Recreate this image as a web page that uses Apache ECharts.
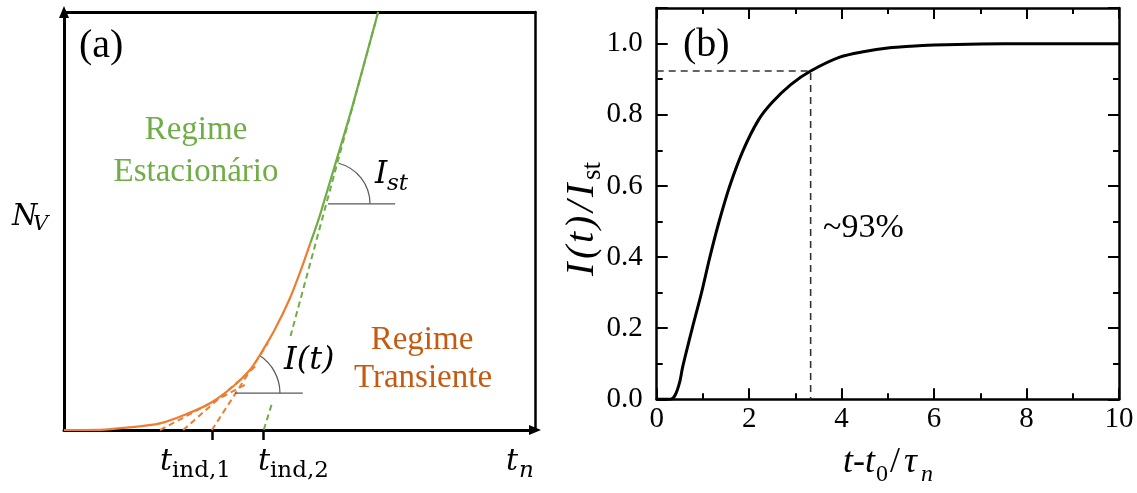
<!DOCTYPE html>
<html><head><meta charset="utf-8">
<script src="https://cdn.jsdelivr.net/npm/echarts@6/dist/echarts.min.js"></script>
<style>html,body{margin:0;padding:0;background:#fff}#c{width:1137px;height:493px}</style>
</head><body><div id="c"></div>
<script>
// ---------- Panel (a): schematic, abstract units (x 0-100, y 0-100) ----------
const transX = [0, 7.6, 13.3, 20.4, 26.0, 31.0, 35.9, 39.5, 42.0, 44.7, 47.8, 50.3, 52.3];
const transY = [0, 0.05, 0.55, 1.6, 3.8, 6.4, 10.4, 14.4, 18.7, 23.9, 31.1, 38.3, 44.7];
const steadyX = [52.3, 54.0, 55.3, 58.5, 61.2, 66.7];
const steadyY = [44.7, 50.2, 55.0, 67.0, 77.3, 100];
const asymUpperX = [66.7, 48.1];
const asymUpperY = [100, 22.5];
const asymLowerX = [44.05, 42.4];
const asymLowerY = [6.0, 0];
const tan1X = [20.4, 38.4], tan1Y = [0, 10.8];
const tan2X = [25.3, 41.2], tan2Y = [0, 15.8];
const tan3X = [31.4, 43.3], tan3Y = [0, 20.8];
const tIndTicks = [31.5, 42.3];
// angle markers: [centerX, centerY, pointOnLineX, pointOnLineY, horizontalEndX]
const angleIt = [36.3, 8.8, 43.3, 20.8, 50.7];
const angleIst = [56.05, 54.1, 66.7, 100, 70.3];

// ---------- Panel (b): I(t)/Ist vs (t-t0)/tau_n ----------
const bT = [0, 0.3, 0.4, 0.5, 0.56, 0.77, 0.97, 1.15, 1.35, 1.58, 1.87, 2.2, 2.5, 2.9, 3.33, 3.96, 4.5, 5, 5.5, 6, 7, 8, 10];
const bV = [0, 0, 0.012, 0.05, 0.09, 0.2, 0.3, 0.4, 0.5, 0.6, 0.7, 0.785, 0.835, 0.885, 0.923, 0.962, 0.978, 0.988, 0.993, 0.996, 0.999, 1, 1];
const mark93T = 3.33, mark93V = 0.923;
const bXTicks = [0, 2, 4, 6, 8, 10];
const bYTicks = [0.0, 0.2, 0.4, 0.6, 0.8, 1.0];

const zip = (a, b) => a.map((v, i) => [v, b[i]]);
const GREEN = '#70AD47', ORANGE = '#ED7D31', ORANGE_TXT = '#C55A11', SERIF = 'Liberation Serif', MATH = 'DejaVu Serif';

const chart = echarts.init(document.getElementById('c'), null, {renderer: 'canvas'});

function angleSeries(a, r) {
  return {
    type: 'custom', xAxisIndex: 0, yAxisIndex: 0, clip: false, z: 3,
    data: [a],
    renderItem: (p, api) => {
      const c = api.coord([api.value(0), api.value(1)]);
      const q = api.coord([api.value(2), api.value(3)]);
      const e = api.coord([api.value(4), api.value(1)]);
      const ang = Math.atan2(q[1] - c[1], q[0] - c[0]);
      return {type: 'group', children: [
        {type: 'line', shape: {x1: c[0], y1: c[1], x2: e[0], y2: e[1]}, style: {stroke: '#595959', lineWidth: 1.2}},
        {type: 'arc', shape: {cx: c[0], cy: c[1], r: r, startAngle: ang, endAngle: 0, clockwise: true}, style: {stroke: '#595959', fill: null, lineWidth: 1.2}}
      ]};
    }
  };
}
const dashLine = (x, y, color) => ({
  type: 'line', xAxisIndex: 0, yAxisIndex: 0, data: zip(x, y), symbol: 'none', clip: false,
  lineStyle: {color: color, width: 2, type: [6, 4]}, z: 2
});

const tx = (text, x, y, size, opts = {}) => ({
  type: 'text', x, y, z: 10,
  style: {text, font: `${opts.style || 'normal'} ${size}px "${opts.family || SERIF}"`, fill: opts.fill || '#000',
    textAlign: opts.align || 'left', textVerticalAlign: 'middle'}
});

const hidden = {axisTick: {show: false}, axisLabel: {show: false}, splitLine: {show: false}};
const option = {
  animation: false,
  backgroundColor: '#fff',
  grid: [
    {left: 64, top: 12, width: 471, height: 418},
    {left: 656.7, top: 8.1, width: 462.3, height: 391.2}
  ],
  xAxis: [
    {gridIndex: 0, type: 'value', min: 0, max: 100, position: 'bottom',
      axisLine: {show: true, onZero: false, symbol: ['none', 'triangle'], symbolSize: [10, 12], lineStyle: {color: '#000', width: 3}},
      axisTick: {show: true, customValues: tIndTicks, inside: false, length: 10, lineStyle: {color: '#000', width: 2.5}},
      axisLabel: {show: false}, splitLine: {show: false}},
    Object.assign({gridIndex: 0, type: 'value', min: 0, max: 100, position: 'top',
      axisLine: {show: true, onZero: false, lineStyle: {color: '#000', width: 3}}}, hidden),
    {gridIndex: 1, type: 'value', min: 0, max: 10, interval: 2, position: 'bottom',
      axisLine: {show: true, onZero: false, lineStyle: {color: '#000', width: 2.5}},
      axisTick: {show: true, inside: true, length: 11, lineStyle: {color: '#000', width: 2}},
      axisLabel: {show: true, margin: 6, color: '#000', fontFamily: SERIF, fontSize: 29,
        customValues: bXTicks, formatter: v => String(v)},
      splitLine: {show: false}},
    {gridIndex: 1, type: 'value', min: 0, max: 10, interval: 1, position: 'bottom',
      axisLine: {show: false, onZero: false}, axisTick: {show: true, inside: true, length: 6, lineStyle: {color: '#000', width: 2}},
      axisLabel: {show: false}, splitLine: {show: false}},
    {gridIndex: 1, type: 'value', min: 0, max: 10, interval: 2, position: 'top',
      axisLine: {show: true, onZero: false, lineStyle: {color: '#000', width: 2.5}},
      axisTick: {show: true, inside: true, length: 11, lineStyle: {color: '#000', width: 2}},
      axisLabel: {show: false}, splitLine: {show: false}},
    {gridIndex: 1, type: 'value', min: 0, max: 10, interval: 1, position: 'top',
      axisLine: {show: false, onZero: false}, axisTick: {show: true, inside: true, length: 6, lineStyle: {color: '#000', width: 2}},
      axisLabel: {show: false}, splitLine: {show: false}}
  ],
  yAxis: [
    Object.assign({gridIndex: 0, type: 'value', min: 0, max: 100, position: 'left',
      axisLine: {show: true, onZero: false, symbol: ['none', 'triangle'], symbolSize: [10, 12], lineStyle: {color: '#000', width: 3}}}, hidden),
    Object.assign({gridIndex: 0, type: 'value', min: 0, max: 100, position: 'right',
      axisLine: {show: true, onZero: false, lineStyle: {color: '#000', width: 2.5}}}, hidden),
    {gridIndex: 1, type: 'value', min: 0, max: 1.1, interval: 0.2, position: 'left',
      axisLine: {show: true, onZero: false, lineStyle: {color: '#000', width: 2.5}},
      axisTick: {show: true, inside: true, length: 11, lineStyle: {color: '#000', width: 2}},
      axisLabel: {show: true, margin: 14, color: '#000', fontFamily: SERIF, fontSize: 29,
        customValues: bYTicks, formatter: v => v.toFixed(1)},
      splitLine: {show: false}},
    {gridIndex: 1, type: 'value', min: 0, max: 1.1, interval: 0.1, position: 'left',
      axisLine: {show: false, onZero: false}, axisTick: {show: true, inside: true, length: 6, lineStyle: {color: '#000', width: 2}},
      axisLabel: {show: false}, splitLine: {show: false}},
    {gridIndex: 1, type: 'value', min: 0, max: 1.1, interval: 0.2, position: 'right',
      axisLine: {show: true, onZero: false, lineStyle: {color: '#000', width: 2.5}},
      axisTick: {show: true, inside: true, length: 11, lineStyle: {color: '#000', width: 2}},
      axisLabel: {show: false}, splitLine: {show: false}},
    {gridIndex: 1, type: 'value', min: 0, max: 1.1, interval: 0.1, position: 'right',
      axisLine: {show: false, onZero: false}, axisTick: {show: true, inside: true, length: 6, lineStyle: {color: '#000', width: 2}},
      axisLabel: {show: false}, splitLine: {show: false}}
  ],
  series: [
    dashLine(asymUpperX, asymUpperY, GREEN),
    dashLine(asymLowerX, asymLowerY, GREEN),
    dashLine(tan1X, tan1Y, ORANGE),
    dashLine(tan2X, tan2Y, ORANGE),
    dashLine(tan3X, tan3Y, ORANGE),
    {type: 'line', xAxisIndex: 0, yAxisIndex: 0, data: zip(transX, transY), symbol: 'none', smooth: 0.3,
      lineStyle: {color: ORANGE, width: 2.2}, z: 4},
    {type: 'line', xAxisIndex: 0, yAxisIndex: 0, data: zip(steadyX, steadyY), symbol: 'none', smooth: 0.3,
      lineStyle: {color: GREEN, width: 2.2}, z: 4},
    angleSeries(angleIt, 45),
    angleSeries(angleIst, 42),
    // panel b
    {type: 'line', xAxisIndex: 2, yAxisIndex: 2, data: [[0, mark93V], [mark93T, mark93V], [mark93T, 0]], symbol: 'none',
      lineStyle: {color: '#333', width: 1.6, type: [7, 5]}, z: 2},
    {type: 'line', xAxisIndex: 2, yAxisIndex: 2, data: zip(bT, bV), symbol: 'none', smooth: 0.3,
      lineStyle: {color: '#000', width: 3}, z: 3}
  ],
  graphic: [
    tx('(a)', 79, 46, 40),
    tx('Regime', 196, 130, 33, {fill: GREEN, align: 'center'}),
    tx('Estacionário', 196, 172, 33, {fill: GREEN, align: 'center'}),
    tx('Regime', 422, 340, 33, {fill: ORANGE_TXT, align: 'center'}),
    tx('Transiente', 423, 378, 33, {fill: ORANGE_TXT, align: 'center'}),
    tx('I(t)', 284, 361, 32, {style: 'italic', family: MATH}),
    tx('I', 375, 175, 31, {style: 'italic', family: MATH}),
    tx('st', 387, 184, 23, {style: 'italic', family: MATH}),
    tx('N', 12, 217, 29, {style: 'italic', family: MATH}),
    tx('V', 33, 225, 21, {style: 'italic', family: MATH}),
    tx('t', 160, 462, 30, {style: 'italic', family: MATH}),
    tx('ind,1', 172, 471, 23, {family: MATH}),
    tx('t', 258, 462, 30, {style: 'italic', family: MATH}),
    tx('ind,2', 270, 471, 23, {family: MATH}),
    tx('t', 506, 462, 30, {style: 'italic', family: MATH}),
    tx('n', 519, 471, 23, {style: 'italic', family: MATH}),
    tx('(b)', 683, 45, 40),
    tx('~93%', 823, 228, 34),
    {type: 'group', x: 582, y: 276, rotation: Math.PI / 2, children: [
      tx('I', 0, 0, 40, {style: 'italic'}),
      tx('(', 17, 0, 40, {style: 'italic'}),
      tx('t', 33, 0, 40, {style: 'italic'}),
      tx(')', 47, 0, 40, {style: 'italic'}),
      tx('/', 64, 0, 40, {style: 'italic'}),
      tx('I', 79, 0, 40, {style: 'italic'}),
      tx('st', 96, 11, 27)
    ]},
    tx('t-t', 843, 463, 36, {style: 'italic'}),
    tx('0', 876, 475, 24),
    tx('/', 890, 463, 36),
    tx('τ', 904, 463, 36, {style: 'italic'}),
    tx('n', 921, 475, 24, {style: 'italic'})
  ]
};
chart.setOption(option);
</script></body></html>
